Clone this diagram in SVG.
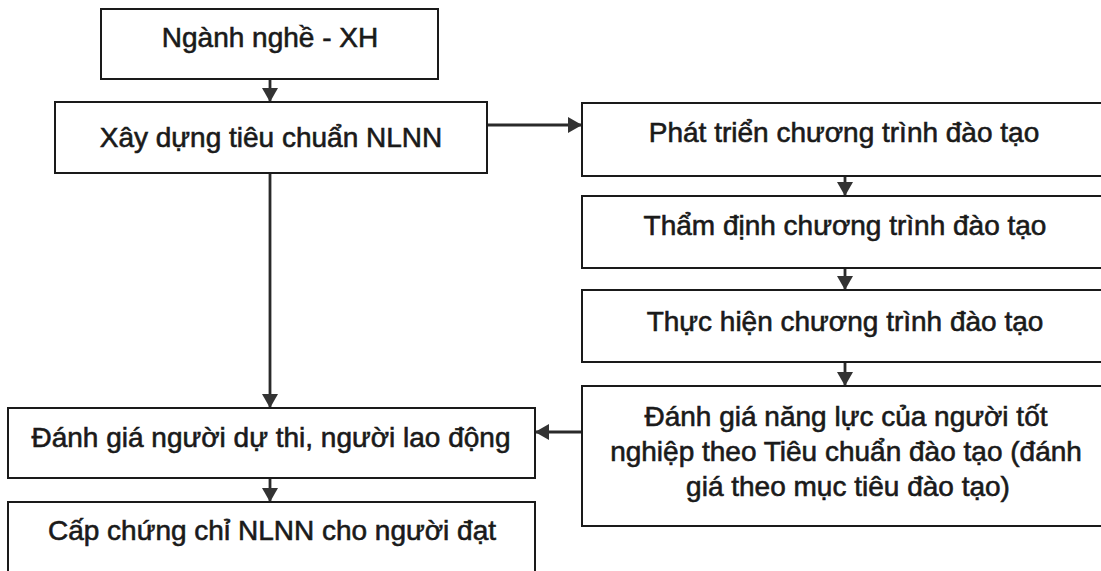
<svg xmlns="http://www.w3.org/2000/svg" width="1101" height="571" viewBox="0 0 1101 571">
  <style>
    .box { fill: #ffffff; stroke: #1a1a1a; stroke-width: 2; }
    .lbl { font-family: "Liberation Sans", Arial, sans-serif; font-size: 28px; fill: #1a1a1a; stroke: #1a1a1a; stroke-width: 0.6; text-anchor: middle; }
    .conn { stroke: #2a2a2a; stroke-width: 2.8; fill: none; }
  </style>
  <defs>
    <marker id="arrow" viewBox="0 0 14 16" refX="14" refY="8" markerWidth="14" markerHeight="16" markerUnits="userSpaceOnUse" orient="auto">
      <path d="M0,0 L14,8 L0,16 z" fill="#333333"/>
    </marker>
  </defs>
  <rect width="1101" height="571" fill="#ffffff"/>

  <g id="connectors">
    <line class="conn" x1="270" y1="79" x2="270" y2="102" marker-end="url(#arrow)"/>
    <line class="conn" x1="487" y1="125" x2="582" y2="125" marker-end="url(#arrow)"/>
    <line class="conn" x1="270" y1="173" x2="270" y2="408" marker-end="url(#arrow)"/>
    <line class="conn" x1="845" y1="176" x2="845" y2="196" marker-end="url(#arrow)"/>
    <line class="conn" x1="845" y1="268" x2="845" y2="290" marker-end="url(#arrow)"/>
    <line class="conn" x1="845" y1="362" x2="845" y2="386" marker-end="url(#arrow)"/>
    <line class="conn" x1="582" y1="432" x2="535" y2="432" marker-end="url(#arrow)"/>
    <line class="conn" x1="270" y1="478" x2="270" y2="502" marker-end="url(#arrow)"/>
  </g>

  <g id="node-nganh-nghe">
    <rect class="box" x="101" y="9" width="337" height="70"/>
    <text class="lbl" x="270" y="47">Ngành nghề - XH</text>
  </g>
  <g id="node-xay-dung">
    <rect class="box" x="55" y="102" width="432" height="71"/>
    <text class="lbl" x="271" y="147">Xây dựng tiêu chuẩn NLNN</text>
  </g>
  <g id="node-phat-trien">
    <rect class="box" x="582" y="103" width="530" height="73"/>
    <text class="lbl" x="844" y="142">Phát triển chương trình đào tạo</text>
  </g>
  <g id="node-tham-dinh">
    <rect class="box" x="582" y="196" width="530" height="72"/>
    <text class="lbl" x="845" y="235">Thẩm định chương trình đào tạo</text>
  </g>
  <g id="node-thuc-hien">
    <rect class="box" x="582" y="290" width="530" height="72"/>
    <text class="lbl" x="845" y="331">Thực hiện chương trình đào tạo</text>
  </g>
  <g id="node-danh-gia-nang-luc">
    <rect class="box" x="582" y="386" width="530" height="140"/>
    <text class="lbl" x="846" y="426">Đánh giá năng lực của người tốt</text>
    <text class="lbl" x="846" y="461">nghiệp theo Tiêu chuẩn đào tạo (đánh</text>
    <text class="lbl" x="848" y="496">giá theo mục tiêu đào tạo)</text>
  </g>
  <g id="node-danh-gia-nguoi-du-thi">
    <rect class="box" x="8" y="408" width="527" height="70"/>
    <text class="lbl" x="271" y="447">Đánh giá người dự thi, người lao động</text>
  </g>
  <g id="node-cap-chung-chi">
    <rect class="box" x="8" y="502" width="527" height="80"/>
    <text class="lbl" x="272" y="540">Cấp chứng chỉ NLNN cho người đạt</text>
  </g>
</svg>
